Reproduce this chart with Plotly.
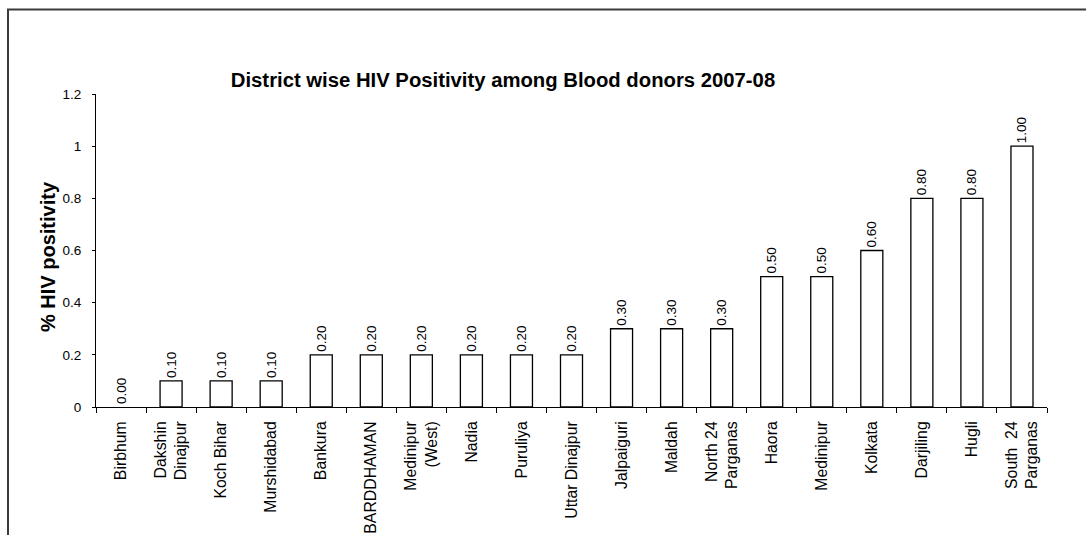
import plotly.graph_objects as go

districts = ["Birbhum", "Dakshin<br>Dinajpur", "Koch Bihar", "Murshidabad", "Bankura",
             "BARDDHAMAN", "Medinipur<br>(West)", "Nadia", "Puruliya", "Uttar Dinajpur",
             "Jalpaiguri", "Maldah", "North 24<br>Parganas", "Haora", "Medinipur",
             "Kolkata", "Darjiling", "Hugli", "South  24<br>Parganas"]
hiv_positivity = [0.00, 0.10, 0.10, 0.10, 0.20, 0.20, 0.20, 0.20, 0.20, 0.20,
                  0.30, 0.30, 0.30, 0.50, 0.50, 0.60, 0.80, 0.80, 1.00]
y_ticks = [0, 0.2, 0.4, 0.6, 0.8, 1, 1.2]

FONT = "Liberation Sans, Arial, sans-serif"
W, H = 1086, 535
L, R, T, B = 96, 39, 94, 128
pw, ph = W - L - R, H - T - B

def px_x(px):
    return (px - L) / pw

def px_y(py):
    return (H - B - py) / ph

fig = go.Figure()
fig.add_trace(go.Bar(
    x=districts, y=hiv_positivity,
    marker=dict(color="white",
                line=dict(color="black", width=[0 if v == 0 else 1.3 for v in hiv_positivity])),
    text=[f"{v:.2f}" for v in hiv_positivity],
    textposition="outside", textangle=-90, constraintext="none",
    textfont=dict(family=FONT, size=13.5, color="black"),
    cliponaxis=False,
))

fig.update_layout(
    width=W, height=H,
    margin=dict(l=L, r=R, t=T, b=B, autoexpand=False),
    paper_bgcolor="white", plot_bgcolor="white",
    bargap=0.56, showlegend=False,
    font=dict(family=FONT, color="black"),
    title=dict(text="<b>District wise HIV Positivity among Blood donors 2007-08</b>",
               font=dict(family=FONT, size=20.3, color="black"),
               xref="paper", x=px_x(503), xanchor="center",
               yref="container", y=(H - 80) / H, yanchor="middle"),
    xaxis=dict(type="category", showline=True, linecolor="black", linewidth=1,
               ticks="outside", ticklen=5, tickcolor="black", tickson="boundaries",
               tickangle=-90, tickfont=dict(family=FONT, size=15.8, color="black"),
               ticklabelstandoff=7,
               showgrid=False, zeroline=False),
    yaxis=dict(range=[0, 1.2], tickvals=y_ticks, showline=True, linecolor="black",
               linewidth=1, ticks="outside", ticklen=3, tickcolor="black",
               tickfont=dict(family=FONT, size=13.5, color="black"),
               ticklabelstandoff=8,
               showgrid=False, zeroline=False),
    annotations=[dict(text="<b>% HIV positivity</b>", textangle=-90,
                      xref="paper", yref="paper", x=px_x(48), y=px_y(257),
                      xanchor="center", yanchor="middle", showarrow=False,
                      font=dict(family=FONT, size=20, color="black"))],
    shapes=[dict(type="rect", xref="paper", yref="paper",
                 x0=px_x(8), x1=px_x(1100), y0=px_y(560), y1=px_y(9.5),
                 line=dict(color="#3a3a3a", width=2), fillcolor="rgba(0,0,0,0)",
                 layer="below")],
)

fig.write_html("out.html")
